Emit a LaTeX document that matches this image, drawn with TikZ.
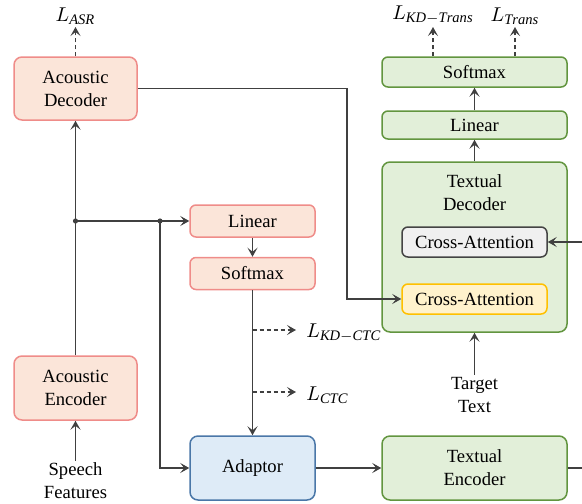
\documentclass[tikz,border=0pt]{standalone}
\usepackage{fontspec}
\setmainfont{Liberation Serif}
\usetikzlibrary{arrows.meta,calc}
\definecolor{pinkfill}{HTML}{FBE5D9}
\definecolor{pinkline}{HTML}{EF8C89}
\definecolor{greenfill}{HTML}{E2EFD9}
\definecolor{greenline}{HTML}{62953F}
\definecolor{bluefill}{HTML}{DEEBF7}
\definecolor{blueline}{HTML}{4A77A8}
\definecolor{yellowfill}{HTML}{FFF2CC}
\definecolor{yellowline}{HTML}{FFC000}
\definecolor{grayfill}{HTML}{F0F0F0}
\definecolor{grayline}{HTML}{444444}
\definecolor{wire}{HTML}{404040}
\newfontfamily\boxfont{Liberation Serif}
\newcommand{\lossname}[2]{$#1_{\mathit{#2}}$}
\tikzset{
  box/.style={draw, rounded corners=4pt, line width=0.75pt, align=center, inner sep=0pt, text=black},
  pinkbox/.style={box, fill=pinkfill, draw=pinkline},
  greenbox/.style={box, fill=greenfill, draw=greenline},
  bluebox/.style={box, fill=bluefill, draw=blueline},
  yellowbox/.style={box, fill=yellowfill, draw=yellowline},
  graybox/.style={box, fill=grayfill, draw=grayline},
  txt/.style={align=center, inner sep=1pt, text=black},
  losstxt/.style={txt, font=\boxfont\fontsize{10.4}{12}\selectfont},
  arr/.style={draw=wire, line width=0.8pt, -{Stealth[length=4.5pt,width=5pt,inset=2pt]}},
  dasharr/.style={arr, dash pattern=on 2pt off 1.5pt},
}
\begin{document}
\begin{tikzpicture}[x=0.5pt, y=-0.5pt, font=\boxfont\fontsize{9.3}{11.5}\selectfont]
    \useasboundingbox (0,0) rectangle (582,503);
    \node[pinkbox, minimum width=61.5pt, minimum height=31.5pt] (adec) at (75.5,88.5) {Acoustic\\Decoder};
    \node[pinkbox, minimum width=61.5pt, minimum height=32pt] (aenc) at (75.5,388) {Acoustic\\Encoder};
    \node[txt] (speech) at (75.5,481) {Speech\\Features};
    \node[losstxt, anchor=south] (lasr) at (75.5,27) {\lossname{L}{ASR}};
    \node[pinkbox, minimum width=62.5pt, minimum height=16pt, rounded corners=3pt] (clin) at (252.5,221) {Linear};
    \node[pinkbox, minimum width=62.5pt, minimum height=16pt, rounded corners=3pt] (csoft) at (252.5,273.5) {Softmax};
    \node[losstxt, anchor=west, inner xsep=5pt] (lkdctc) at (296,333) {$L_{\mathit{KD}-\mathit{CTC}}$};
    \node[losstxt, anchor=west, inner xsep=5pt] (lctc) at (296,395) {\lossname{L}{CTC}};
    \node[bluebox, minimum width=62.5pt, minimum height=32pt] (adapt) at (252.5,468) {Adaptor};
    \node[greenbox, minimum width=92.5pt, minimum height=32pt] (tenc) at (474.5,468) {Textual\\Encoder};
    \node[greenbox, minimum width=92.5pt, minimum height=85pt] (tdec) at (474.5,247) {};
    \node[txt] (tdectitle) at (474.5,193) {Textual\\Decoder};
    \node[graybox, minimum width=72.5pt, minimum height=15pt, rounded corners=3pt] (cagray) at (474.5,242) {Cross-Attention};
    \node[yellowbox, minimum width=72.5pt, minimum height=15pt, rounded corners=3pt] (cayellow) at (474.5,299) {Cross-Attention};
    \node[txt] (target) at (474.5,395) {Target\\Text};
    \node[greenbox, minimum width=92.5pt, minimum height=14pt, rounded corners=3pt] (tlin) at (474.5,125) {Linear};
    \node[greenbox, minimum width=92.5pt, minimum height=15pt, rounded corners=3pt] (tsoft) at (474.5,72) {Softmax};
    \node[losstxt, anchor=south] (lkdtrans) at (433,27) {$L_{\mathit{KD}-\mathit{Trans}}$};
    \node[losstxt, anchor=south] (ltrans) at (515,27) {\lossname{L}{Trans}};
    \coordinate (j1) at (75.5,221);
    \coordinate (j2) at (160,221);
    \coordinate (bend) at (347,90);
    \coordinate (kd) at (252.5,330);
    \coordinate (ctc) at (252.5,392);
    \coordinate (rin) at (582,242);
    \coordinate (rout) at (582,468);
    \draw[arr] (speech) -- (aenc);
    \draw[arr] (aenc) -- (adec);
    \draw[dasharr] (adec) -- (lasr);
    \draw[arr] (j1) -- (clin);
    \draw[arr] (j2) |- (adapt);
    \fill[wire] (j1) circle (1.3pt);
    \fill[wire] (j2) circle (1.3pt);
    \draw[arr] (clin) -- (csoft);
    \draw[arr] (csoft) -- (adapt);
    \draw[dasharr] (kd) -- (kd -| lkdctc.west);
    \draw[dasharr] (ctc) -- (ctc -| lctc.west);
    \draw[arr] (adapt) -- (tenc);
    \draw[draw=wire, line width=0.8pt] (tenc) -- (rout);
    \draw[arr] (rin) -- (cagray);
    \draw[arr] (adec.east) -- (adec.east -| bend) |- (cayellow.west);
    \draw[arr] (target) -- (tdec);
    \draw[arr] (tdec) -- (tlin);
    \draw[arr] (tlin) -- (tsoft);
    \draw[dasharr] (tsoft.north -| lkdtrans) -- (lkdtrans);
    \draw[dasharr] (tsoft.north -| ltrans) -- (ltrans);
\end{tikzpicture}
\end{document}
